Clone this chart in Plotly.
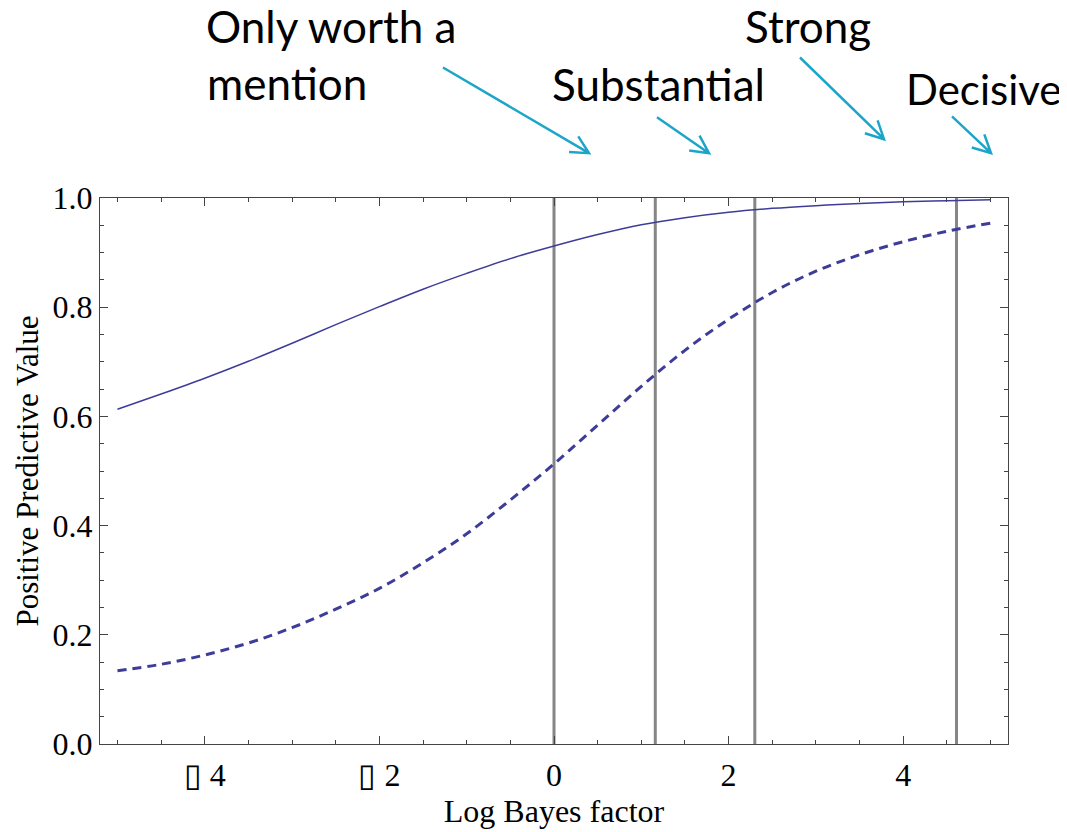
import math
import plotly.graph_objects as go

# ---- data ----
log_bf = [-5, -4.5, -4, -3.5, -3, -2.5, -2, -1.5, -1, -0.5, 0,
          0.5, 1, 1.5, 2, 2.5, 3, 3.5, 4, 4.5, 5]
ppv_solid = [0.613, 0.641, 0.670, 0.701, 0.734, 0.768, 0.801, 0.833, 0.862, 0.889, 0.912,
             0.933, 0.951, 0.964, 0.974, 0.981, 0.986, 0.990, 0.993, 0.995, 0.997]
ppv_dashed = [0.134, 0.146, 0.163, 0.185, 0.213, 0.247, 0.285, 0.332, 0.385, 0.447, 0.513,
              0.584, 0.655, 0.721, 0.778, 0.827, 0.866, 0.896, 0.920, 0.939, 0.954]
threshold_x = [0, 1.16, 2.30, 4.61]
tick_vals = [-4, -2, 0, 2, 4]
tick_text = ["\u25af 4", "\u25af 2", "0", "2", "4"]
y_tick_vals = [0.0, 0.2, 0.4, 0.6, 0.8, 1.0]
y_tick_text = ["0.0", "0.2", "0.4", "0.6", "0.8", "1.0"]
labels = ["Only worth a", "mention", "Substantial", "Strong", "Decisive"]

# the page body adds an 8px offset; figure coordinates below are page pixels - 8
OFF = 8
W, H = 1067 - OFF, 832 - OFF
L, R, T, B = 100 - OFF, 59, 198 - OFF, 86
PW, PH = W - L - R, H - T - B

def px(x):
    return (x - OFF - L) / PW

def py(y):
    return (H - B - (y - OFF)) / PH

CURVE = "#3d3d99"
ARROW = "#1ba6c9"
SERIF = "Liberation Serif, Times New Roman, serif"
SANS = "Lato, Carlito, Calibri, Liberation Sans, sans-serif"

fig = go.Figure()

# vertical threshold lines
vx, vy = [], []
for xv in threshold_x:
    vx += [xv, xv, None]
    vy += [0, 1, None]
fig.add_trace(go.Scatter(x=vx, y=vy, mode="lines",
                         line=dict(color="#868686", width=3),
                         hoverinfo="skip", showlegend=False))

fig.add_trace(go.Scatter(x=log_bf, y=ppv_solid, mode="lines",
                         line=dict(color=CURVE, width=1.5, shape="spline", smoothing=1.0),
                         showlegend=False))
fig.add_trace(go.Scatter(x=log_bf, y=ppv_dashed, mode="lines",
                         line=dict(color=CURVE, width=3, shape="spline", smoothing=1.0,
                                   dash="9px,6px"),
                         showlegend=False))

# arrows (page pixel positions of start, tip)
arrows = [((443, 67), (589, 153)),
          ((657, 117), (709, 153)),
          ((800, 57), (884, 139)),
          ((952, 116), (991, 153))]
shapes = []
HL, HA = 20, math.radians(27)
for (x0, y0), (x1, y1) in arrows:
    ang = math.atan2(y0 - y1, x0 - x1)
    w1 = (x1 + HL * math.cos(ang + HA), y1 + HL * math.sin(ang + HA))
    w2 = (x1 + HL * math.cos(ang - HA), y1 + HL * math.sin(ang - HA))
    path = (f"M {px(x0)},{py(y0)} L {px(x1)},{py(y1)} "
            f"M {px(w1[0])},{py(w1[1])} L {px(x1)},{py(y1)} L {px(w2[0])},{py(w2[1])}")
    shapes.append(dict(type="path", xref="paper", yref="paper", path=path,
                       line=dict(color=ARROW, width=2.5)))

# label positions (left x, baseline y in page pixels, font size)
label_pos = [(205, 43, 44), (206, 100, 44), (551, 101, 44), (744, 43, 44), (905, 105, 42)]
annotations = []
for text, (lx, by, fs) in zip(labels, label_pos):
    annotations.append(dict(text=text, xref="paper", yref="paper", borderpad=0,
                            x=px(lx), y=py(by - 0.33 * fs - 3), xanchor="left", yanchor="middle",
                            showarrow=False, font=dict(family=SANS, size=fs, color="black")))

fig.update_layout(
    width=W, height=H,
    margin=dict(l=L, r=R, t=T, b=B),
    paper_bgcolor="white", plot_bgcolor="white",
    shapes=shapes, annotations=annotations,
    xaxis=dict(range=[-5.2, 5.2], tickvals=tick_vals, ticktext=tick_text,
               ticks="inside", ticklen=8, tickwidth=1, tickcolor="#444",
               minor=dict(dtick=0.5, tick0=0, ticks="inside", ticklen=4, tickcolor="#444"),
               showline=True, linecolor="#444", linewidth=1, mirror="ticks",
               showgrid=False, zeroline=False,
               tickfont=dict(family=SERIF, size=32, color="black"),
               ticklabelstandoff=3,
               title=dict(text="Log Bayes factor", font=dict(family=SERIF, size=32, color="black"),
                          standoff=4)),
    yaxis=dict(range=[0, 1], tickvals=y_tick_vals, ticktext=y_tick_text,
               ticks="inside", ticklen=8, tickwidth=1, tickcolor="#444",
               minor=dict(dtick=0.05, tick0=0, ticks="inside", ticklen=4, tickcolor="#444"),
               showline=True, linecolor="#444", linewidth=1, mirror="ticks",
               showgrid=False, zeroline=False,
               tickfont=dict(family=SERIF, size=32, color="black"),
               ticklabelstandoff=0,
               title=dict(text="Positive Predictive Value", font=dict(family=SERIF, size=31, color="black"),
                          standoff=4)),
)

fig.write_html("out.html")
